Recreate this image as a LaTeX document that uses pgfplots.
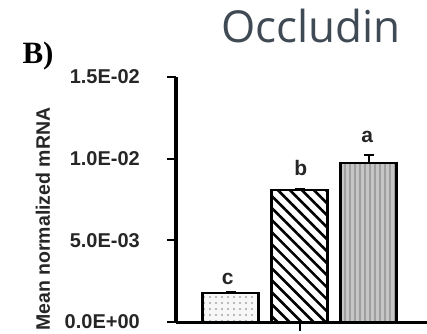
\documentclass[border=0pt]{standalone}
\usepackage{fontspec}
\setmainfont{Liberation Sans}
\newfontfamily\titlefont{Open Sans}
\newfontfamily\serifbold{Liberation Serif}
\usepackage{pgfplots}
\pgfplotsset{compat=1.18}
\usetikzlibrary{patterns.meta}
\definecolor{titlegray}{HTML}{3F4A54}
\begin{document}
\begin{tikzpicture}[x=1pt,y=1pt]
\path[use as bounding box] (0,0) rectangle (427,333);
\begin{axis}[
  at={(176pt,11pt)}, anchor=south west,
  scale only axis, width=251pt, height=245pt,
  xmin=0, xmax=3.638, ymin=0, ymax=0.015,
  axis lines=left,
  x axis line style={-, line width=3pt},
  y axis line style={-, line width=4pt},
  ytick={0,0.005,0.01,0.015},
  yticklabels={0.0E+00,5.0E-03,1.0E-02,1.5E-02},
  scaled y ticks=false,
  xtick={1.79}, xticklabels={},
  tick align=outside, major tick length=9pt,
  tick style={line width=2pt, black},
  yticklabel style={font=\bfseries\fontsize{20}{20}\selectfont, text=black!85, anchor=east, inner sep=0pt, xshift=-27pt},
  ylabel={Mean normalized mRNA},
  ylabel style={at={(rel axis cs:-0.53,0.42)}, anchor=center, text=black!85, font=\bfseries\fontsize{19.5}{19.5}\selectfont},
  clip=false,
]
\addplot[ybar, bar shift=0pt, bar width=56pt, draw=black, line width=2.5pt, fill=gray!6,
  postaction={pattern={Dots[distance=6pt,radius=1.2pt]}, pattern color=gray!70},
  error bars/.cd, y dir=plus, y explicit,
  error bar style={line width=2pt, black},
  error mark options={line width=2pt, mark size=5pt, rotate=90, black}]
  coordinates {(0.79,0.00178) +- (0,0.00003)};
\addplot[ybar, bar shift=0pt, bar width=56pt, draw=black, line width=2.5pt, fill=white,
  postaction={pattern={Lines[angle=-45,distance=8.5pt,line width=2.6pt]}, pattern color=black},
  error bars/.cd, y dir=plus, y explicit,
  error bar style={line width=2pt, black},
  error mark options={line width=2pt, mark size=5pt, rotate=90, black}]
  coordinates {(1.79,0.00808) +- (0,0.00008)};
\addplot[ybar, bar shift=0pt, bar width=56pt, draw=black, line width=2.5pt, fill=gray!45,
  postaction={pattern={Lines[angle=90,distance=5pt,line width=1.5pt]}, pattern color=gray!75},
  error bars/.cd, y dir=plus, y explicit,
  error bar style={line width=2pt, black},
  error mark options={line width=2pt, mark size=5pt, rotate=90, black}]
  coordinates {(2.79,0.00974) +- (0,0.00049)};
\node[font=\bfseries\fontsize{21}{21}\selectfont, text=black!85, anchor=base] at (axis cs:0.75,0.00227) {c};
\node[font=\bfseries\fontsize{21}{21}\selectfont, text=black!85, anchor=base] at (axis cs:1.81,0.00894) {b};
\node[font=\bfseries\fontsize{21}{21}\selectfont, text=black!85, anchor=base] at (axis cs:2.77,0.01096) {a};
\end{axis}
\node[font=\titlefont\fontsize{44}{44}\selectfont, text=titlegray, anchor=base, inner sep=0pt] at (311,291) {Occludin};
\node[font=\serifbold\bfseries\fontsize{31}{31}\selectfont, anchor=base, inner sep=0pt] at (38,270) {B)};
\end{tikzpicture}
\end{document}
